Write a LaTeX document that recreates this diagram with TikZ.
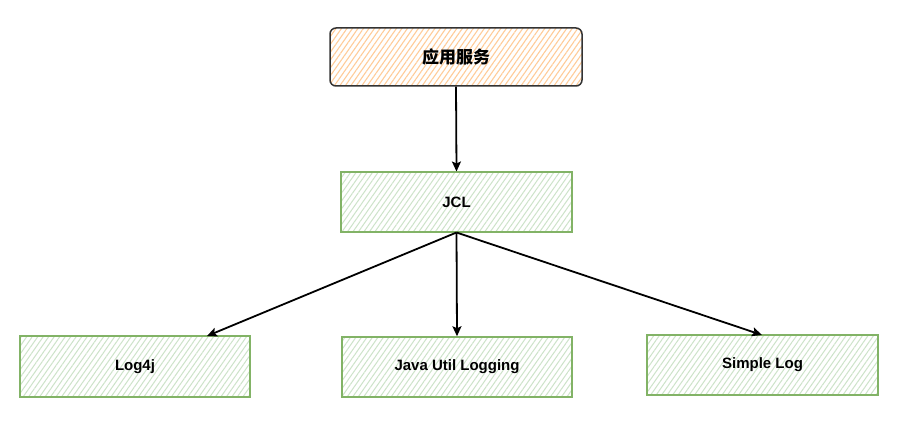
\documentclass[tikz,border=0pt]{standalone}
\usepackage{fontspec}
\setmainfont{Liberation Sans}
\newfontfamily\cjk{Noto Sans CJK SC}
\usetikzlibrary{patterns.meta,arrows.meta}
\definecolor{orfill}{HTML}{FFCC99}
\definecolor{grfill}{HTML}{D5E8D4}
\definecolor{grline}{HTML}{82B366}
\definecolor{dkline}{HTML}{333333}
\tikzset{
  greenbox/.style={draw=grline, line width=1.5pt, preaction={fill=white},
    pattern={Lines[angle=55,distance=4.5pt,line width=1pt]}, pattern color=grfill!90!grline,
    minimum width=231pt, minimum height=60pt, inner sep=0pt,
    font=\fontsize{15}{18}\selectfont\bfseries},
  orangebox/.style={draw=dkline, line width=1.5pt, preaction={fill=white}, rounded corners=6pt,
    pattern={Lines[angle=55,distance=4.5pt,line width=1.1pt]}, pattern color=orfill,
    minimum width=252pt, minimum height=58pt, inner sep=0pt,
    font=\cjk\fontsize{17}{20}\selectfont\bfseries},
  conn/.style={draw=black, line width=1.8pt, -{Stealth[length=10pt,width=9pt,inset=2pt]}}
}
\begin{document}
\begin{tikzpicture}[x=1pt,y=-1pt]
\useasboundingbox (0,0) rectangle (909,422);
\node[orangebox] (app) at (456,57) {应用服务};
\node[greenbox] (jcl) at (456.5,202) {JCL};
\node[greenbox, minimum width=230pt, minimum height=61pt] (log4j) at (135,366.5) {Log4j};
\node[greenbox, minimum width=230pt] (jul) at (457,367) {Java Util Logging};
\node[greenbox] (simple) at (762.5,365) {Simple Log};
\coordinate (l4top) at (207,336);
\coordinate (sltop) at (762,335);
\draw[conn] (app.south) -- (jcl.north);
\draw[conn] (jcl.south) -- (l4top);
\draw[conn] (jcl.south) -- (jul.north);
\draw[conn] (jcl.south) -- (sltop);
\end{tikzpicture}
\end{document}
